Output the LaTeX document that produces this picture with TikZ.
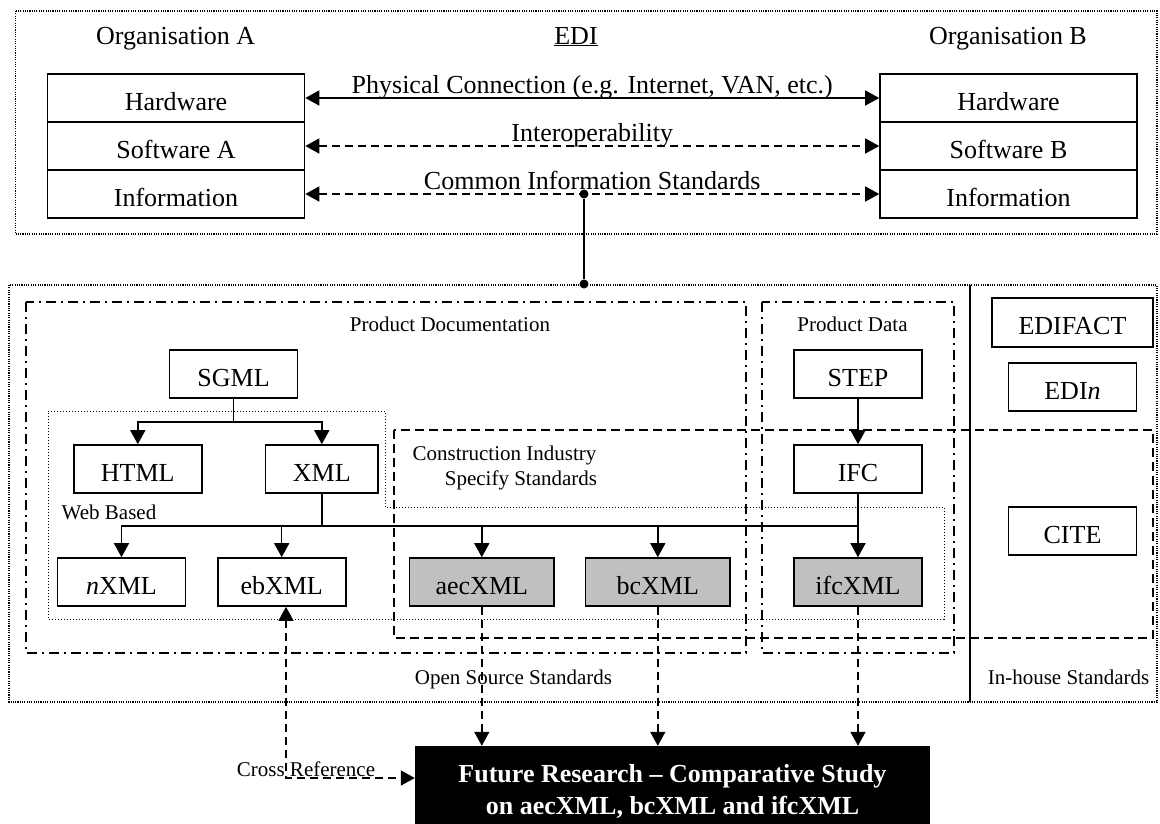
\documentclass[tikz,border=0pt]{standalone}
\usepackage{fontspec}
\setmainfont{Liberation Serif}
\usetikzlibrary{arrows.meta,calc}
\definecolor{boxgray}{HTML}{C0C0C0}
\begin{document}
\begin{tikzpicture}[x=1pt,y=-1pt,
  big/.style={font=\fontsize{26}{30}\selectfont},
  small/.style={font=\fontsize{21}{25}\selectfont},
  box/.style={draw, line width=1.6pt, inner sep=0pt, big, text height=25pt, text depth=1pt},
  orgbox/.style={box, minimum width=257pt, minimum height=48pt},
  stdbox/.style={box, minimum width=128pt, minimum height=48pt},
  graybox/.style={box, fill=boxgray, minimum width=144.5pt, minimum height=48pt},
  lbl/.style={big, anchor=base, inner sep=0pt},
  slbl/.style={small, anchor=base, inner sep=0pt},
  tip/.tip={Triangle[length=14pt,width=15pt]},
  solidline/.style={line width=1.5pt},
  arr/.style={solidline, -tip},
  dashline/.style={line width=1.5pt, dash pattern=on 8pt off 5pt},
  darr/.style={dashline, -tip},
  outerdot/.style={line width=1.1pt, dash pattern=on 1.1pt off 1.2pt},
  webdot/.style={line width=1pt, dash pattern=on 1pt off 2pt},
  dashdot/.style={line width=1.5pt, dash pattern=on 10pt off 5pt on 2pt off 5pt},
  dashbox/.style={line width=1.5pt, dash pattern=on 9pt off 5pt},
  dotn/.style={circle, fill=black, inner sep=0pt, minimum size=9pt}
]
\useasboundingbox (0,0) rectangle (1160,823);

% containers
\draw[outerdot] (15.5,11) rectangle (1157,234);
\draw[outerdot] (9,285) rectangle (1157,702);
\draw[line width=1.2pt] (970,285) -- (970,702);
\draw[dashdot] (26,302) rectangle (746,653);
\draw[dashdot] (762,302) rectangle (954,653);
\draw[webdot] (48,411) -- (385,411) -- (385,507) -- (944,507) -- (944,619) -- (48,619) -- cycle;
\draw[dashbox] (394,430) rectangle (1153,638);

% top section
\node[lbl] (orgA) at (175.7,44) {Organisation A};
\node[lbl] (edi) at (576,44) {\underline{EDI}};
\node[lbl] (orgB) at (1008,44) {Organisation B};

\node[orgbox] (hwA) at (176,98) {Hardware};
\node[orgbox] (swA) at (176,146) {Software A};
\node[orgbox] (inA) at (176,194) {Information};
\node[orgbox] (hwB) at (1008.5,98) {Hardware};
\node[orgbox] (swB) at (1008.5,146) {Software B};
\node[orgbox] (inB) at (1008.5,194) {Information};

\draw[solidline, tip-tip] (hwA.east) -- node[lbl, yshift=5pt] (phys) {Physical Connection (e.g. Internet, VAN, etc.)} (hwB.west);
\draw[dashline, tip-tip] (swA.east) -- node[lbl, yshift=5pt] (inter) {Interoperability} (swB.west);
\draw[dashline, tip-tip] (inA.east) -- node[lbl, yshift=5pt] (common) {Common Information Standards} (inB.west);

\node[dotn] (d1) at (584,194) {};
\node[dotn] (d2) at (584,284) {};
\draw[solidline] (d1) -- (d2);

% labels in lower section
\node[slbl] (pdoc) at (450,331) {Product Documentation};
\node[slbl] (pdata) at (852.5,331) {Product Data};
\node[slbl] (web) at (109,519) {Web Based};
\node[slbl] (cis1) at (504.5,460) {Construction Industry};
\node[slbl] (cis2) at (521,485) {Specify Standards};
\node[slbl] (oss) at (513.5,684) {Open Source Standards};
\node[slbl] (ihs) at (1068.6,684) {In-house Standards};

% boxes
\node[stdbox] (sgml) at (233.6,374) {SGML};
\node[stdbox] (html) at (137.8,469) {HTML};
\node[box, minimum width=112.5pt, minimum height=48pt] (xml) at (321.8,469) {XML};
\node[stdbox] (step) at (858,374) {STEP};
\node[stdbox] (ifc) at (858,469) {IFC};
\node[stdbox] (nxml) at (121.5,582) {\textit{n}XML};
\node[stdbox] (eb) at (281.7,582) {ebXML};
\node[graybox] (aec) at (481.8,582) {aecXML};
\node[graybox] (bc) at (657.8,582) {bcXML};
\node[graybox, minimum width=128pt] (ifcx) at (858,582) {ifcXML};
\node[box, minimum width=161pt, minimum height=49pt] (edifact) at (1072.5,322.5) {EDIFACT};
\node[stdbox] (edin) at (1072.5,387) {EDI\textit{n}};
\node[stdbox] (cite) at (1072.5,531) {CITE};

% trees
\coordinate (sj) at (233.6,422);
\draw[solidline] (sgml.south) -- (sj);
\draw[arr] (sj) -| (html.north);
\draw[arr] (sj) -| (xml.north);

\coordinate (xj) at (321.8,526);
\draw[solidline] (xml.south) -- (xj);
\draw[solidline] (xj -| nxml.north) -- (xj -| ifc.south);
\draw[arr] (xj) -| (nxml.north);
\draw[arr] (xj) -| (eb.north);
\draw[arr] (xj) -| (aec.north);
\draw[arr] (xj) -| (bc.north);
\draw[arr] (step.south) -- (ifc.north);
\draw[arr] (ifc.south) -- (ifcx.north);

% future research
\node[fill=black, minimum width=515pt, minimum height=90pt, inner sep=0pt, text=white,
      font=\bfseries\fontsize{26}{32}\selectfont, align=center] (fut) at (672.5,791)
      {Future Research – Comparative Study\\on aecXML, bcXML and ifcXML};

\draw[darr] (aec.south) -- (aec.south |- fut.north);
\draw[darr] (bc.south) -- (bc.south |- fut.north);
\draw[darr] (ifcx.south) -- (ifcx.south |- fut.north);

\coordinate (cr) at (286,778);
\draw[dashline, tip-tip] (eb.south -| cr) -- (cr) -- (cr -| fut.west);
\node[slbl] (cross) at (306,776) {Cross Reference};
\end{tikzpicture}
\end{document}
